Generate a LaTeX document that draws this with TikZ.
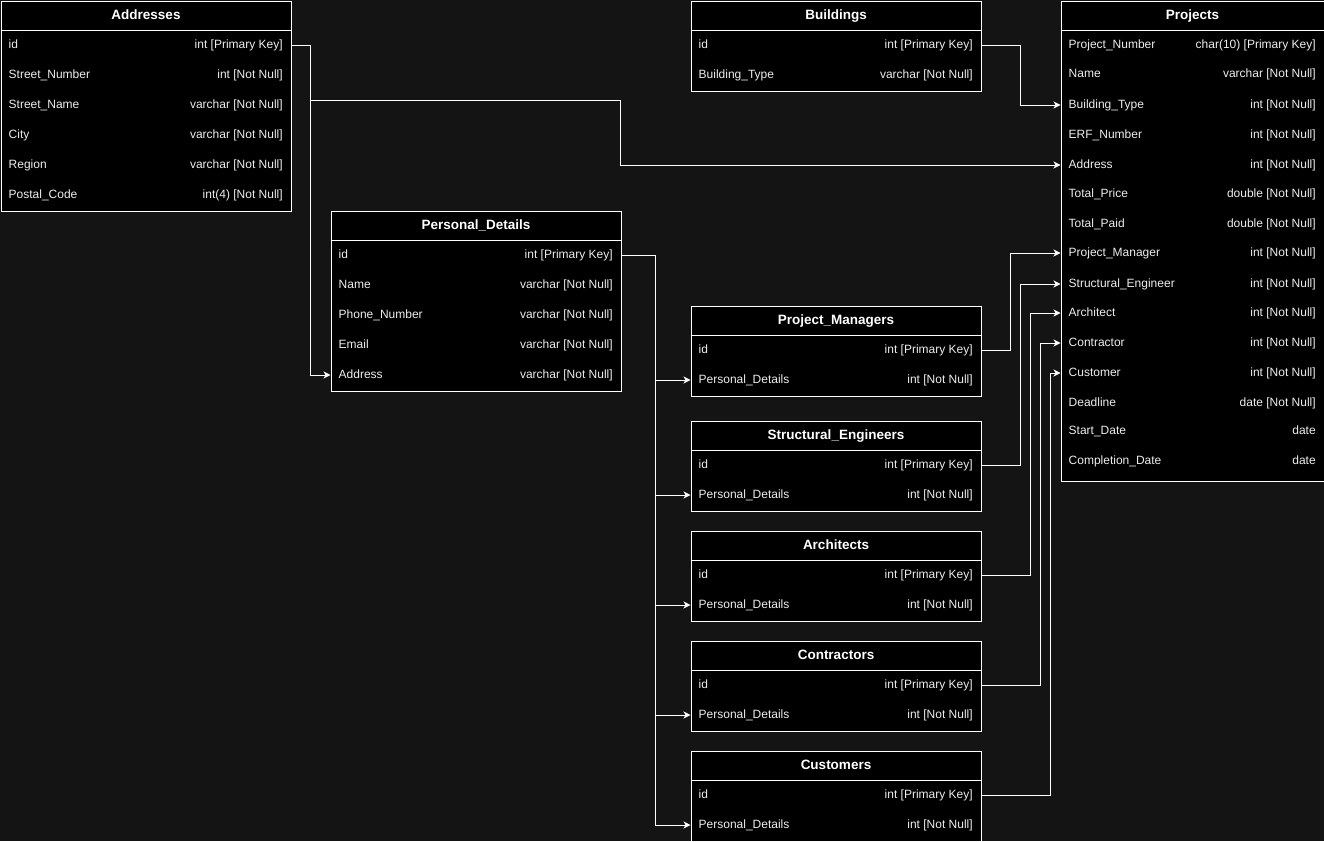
\documentclass[tikz,border=0pt]{standalone}
\usepackage{fontspec}
\setmainfont{Liberation Sans}
\usetikzlibrary{calc,arrows.meta}
\definecolor{bg}{HTML}{141414}
\definecolor{txtc}{HTML}{EDEDED}
\tikzset{
  tbox/.style={draw=white, fill=black, line width=1pt, inner sep=0pt},
  thead/.style={text=white, font=\fontsize{13.5}{15}\selectfont\bfseries, inner sep=0pt, text height=10pt, text depth=3pt},
  rowbox/.style={inner sep=0pt, minimum height=30pt},
  txt/.style={text=txtc, font=\fontsize{12}{14}\selectfont, inner sep=0pt, text height=9pt, text depth=3pt},
  conn/.style={draw=white, line width=1pt, -{Stealth[length=7pt,width=7pt,inset=2pt]}},
}
% name, x, ytop, w, h, title
\newcommand\tblbox[6]{%
  \node[tbox, minimum width=#4pt, minimum height=#5pt, anchor=north west] (#1) at (#2,#3) {};
  \draw[white, line width=1pt] ($(#1.north west)+(0,30)$) -- ($(#1.north east)+(0,30)$);
  \node[thead] (#1-title) at ($(#1.north)+(0,15)$) {#6};
}
% name, x, y, w, left, right
\newcommand\trow[6]{%
  \node[rowbox, minimum width=#4pt, anchor=west] (#1) at (#2,#3) {};
  \node[txt, anchor=west] (#1-l) at ($(#1.west)+(8,0)$) {#5};
  \node[txt, anchor=east] (#1-r) at ($(#1.east)+(-8,0)$) {#6};
}
\begin{document}
\begin{tikzpicture}[x=1pt,y=-1pt]
\fill[bg] (0,0) rectangle (1324,841);
\useasboundingbox (0,0) rectangle (1324,841);

% Addresses
\tblbox{addr}{0.5}{0.5}{290}{210}{Addresses}
\trow{addr-id}{0.5}{45}{290}{id}{int [Primary Key]}
\trow{addr-sn}{0.5}{75}{290}{Street\_Number}{int [Not Null]}
\trow{addr-st}{0.5}{105}{290}{Street\_Name}{varchar [Not Null]}
\trow{addr-ci}{0.5}{135}{290}{City}{varchar [Not Null]}
\trow{addr-re}{0.5}{165}{290}{Region}{varchar [Not Null]}
\trow{addr-pc}{0.5}{195}{290}{Postal\_Code}{int(4) [Not Null]}

% Buildings
\tblbox{bld}{690.5}{0.5}{290}{90}{Buildings}
\trow{bld-id}{690.5}{45}{290}{id}{int [Primary Key]}
\trow{bld-bt}{690.5}{75}{290}{Building\_Type}{varchar [Not Null]}

% Projects
\tblbox{pr}{1060.5}{0.5}{263}{480}{Projects}
\trow{pr-pn}{1060.5}{45}{263}{Project\_Number}{char(10) [Primary Key]}
\trow{pr-na}{1060.5}{74}{263}{Name}{varchar [Not Null]}
\trow{pr-bt}{1060.5}{105}{263}{Building\_Type}{int [Not Null]}
\trow{pr-erf}{1060.5}{135}{263}{ERF\_Number}{int [Not Null]}
\trow{pr-addr}{1060.5}{165}{263}{Address}{int [Not Null]}
\trow{pr-tp}{1060.5}{194}{263}{Total\_Price}{double [Not Null]}
\trow{pr-tpd}{1060.5}{224}{263}{Total\_Paid}{double [Not Null]}
\trow{pr-pm}{1060.5}{253}{263}{Project\_Manager}{int [Not Null]}
\trow{pr-se}{1060.5}{284}{263}{Structural\_Engineer}{int [Not Null]}
\trow{pr-ar}{1060.5}{313}{263}{Architect}{int [Not Null]}
\trow{pr-co}{1060.5}{343}{263}{Contractor}{int [Not Null]}
\trow{pr-cu}{1060.5}{373}{263}{Customer}{int [Not Null]}
\trow{pr-dl}{1060.5}{403}{263}{Deadline}{date [Not Null]}
\trow{pr-sd}{1060.5}{431}{263}{Start\_Date}{date}
\trow{pr-cd}{1060.5}{461}{263}{Completion\_Date}{date}

% Personal_Details
\tblbox{pd}{330.5}{210.5}{290}{180}{Personal\_Details}
\trow{pd-id}{330.5}{255}{290}{id}{int [Primary Key]}
\trow{pd-na}{330.5}{285}{290}{Name}{varchar [Not Null]}
\trow{pd-ph}{330.5}{315}{290}{Phone\_Number}{varchar [Not Null]}
\trow{pd-em}{330.5}{345}{290}{Email}{varchar [Not Null]}
\trow{pd-addr}{330.5}{375}{290}{Address}{varchar [Not Null]}

% Role tables
\tblbox{pm}{690.5}{305.5}{290}{90}{Project\_Managers}
\trow{pm-id}{690.5}{350}{290}{id}{int [Primary Key]}
\trow{pm-pd}{690.5}{380}{290}{Personal\_Details}{int [Not Null]}

\tblbox{se}{690.5}{420.5}{290}{90}{Structural\_Engineers}
\trow{se-id}{690.5}{465}{290}{id}{int [Primary Key]}
\trow{se-pd}{690.5}{495}{290}{Personal\_Details}{int [Not Null]}

\tblbox{ar}{690.5}{530.5}{290}{90}{Architects}
\trow{ar-id}{690.5}{575}{290}{id}{int [Primary Key]}
\trow{ar-pd}{690.5}{605}{290}{Personal\_Details}{int [Not Null]}

\tblbox{co}{690.5}{640.5}{290}{90}{Contractors}
\trow{co-id}{690.5}{685}{290}{id}{int [Primary Key]}
\trow{co-pd}{690.5}{715}{290}{Personal\_Details}{int [Not Null]}

\tblbox{cu}{690.5}{750.5}{290}{90}{Customers}
\trow{cu-id}{690.5}{795}{290}{id}{int [Primary Key]}
\trow{cu-pd}{690.5}{825}{290}{Personal\_Details}{int [Not Null]}

% Connectors
\coordinate (aj) at (310.5,100.5);
\coordinate (ak) at (620.5,100.5);
\draw[conn] (addr-id.east) -| (aj) |- (pd-addr.west);
\draw[conn] (aj) -- (ak) |- (pr-addr.west);

\coordinate (bj) at (1020.5,45);
\draw[conn] (bld-id.east) -- (bj) |- (pr-bt.west);

\coordinate (pj) at (655.5,255);
\draw[conn] (pd-id.east) -- (pj) |- (pm-pd.west);
\draw[conn] (pj) |- (se-pd.west);
\draw[conn] (pj) |- (ar-pd.west);
\draw[conn] (pj) |- (co-pd.west);
\draw[conn] (pj) |- (cu-pd.west);

\coordinate (mj) at (1010.5,350);
\draw[conn] (pm-id.east) -- (mj) |- (pr-pm.west);
\coordinate (ej) at (1020.5,465);
\draw[conn] (se-id.east) -- (ej) |- (pr-se.west);
\coordinate (rj) at (1030.5,575);
\draw[conn] (ar-id.east) -- (rj) |- (pr-ar.west);
\coordinate (oj) at (1040.5,685);
\draw[conn] (co-id.east) -- (oj) |- (pr-co.west);
\coordinate (uj) at (1050.5,795);
\draw[conn] (cu-id.east) -- (uj) |- (pr-cu.west);
\end{tikzpicture}
\end{document}
